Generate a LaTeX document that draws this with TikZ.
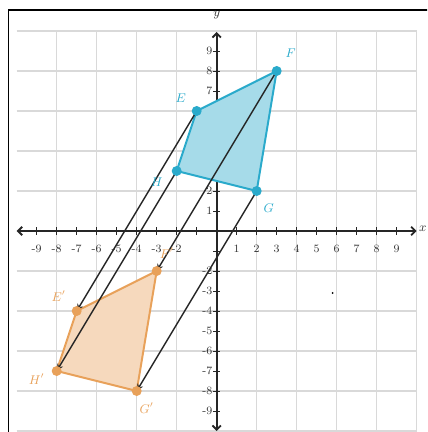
\documentclass[tikz,border=0pt]{standalone}
\usetikzlibrary{arrows.meta}
\definecolor{kblue}{HTML}{2AAACB}
\definecolor{korange}{HTML}{E8A15A}
\tikzset{
  gridline/.style={gray!30, line width=0.8pt},
  axisline/.style={black!85, line width=1.3pt, {Straight Barb[length=3pt,width=6pt]}-{Straight Barb[length=3pt,width=6pt]}},
  tick/.style={black!85, line width=0.7pt},
  ticklab/.style={font=\footnotesize, inner sep=0pt, text=black!80},
  translate/.style={black!85, line width=1pt, -{Stealth[length=5pt,width=4.5pt]}},
  bluepoly/.style={draw=kblue, line width=1.4pt, fill=kblue!42, line join=round},
  orangepoly/.style={draw=korange, line width=1.4pt, fill=korange!40, line join=round},
  bluedot/.style={fill=kblue},
  orangedot/.style={fill=korange},
  bluelab/.style={text=kblue, font=\small\itshape},
  orangelab/.style={text=korange, font=\small\itshape},
}
\begin{document}
\begin{tikzpicture}[x=0.5cm,y=0.5cm]
\useasboundingbox (-10.835,-10.05) rectangle (10.515,11.55);
\clip (-10.835,-10.05) rectangle (10.515,11.55);
% frame
\draw[line width=0.9pt] (-10.41,-11) -- (-10.41,11.05) -- (11,11.05);
% grid
\draw[gridline] (-10,-10.5) grid (10,10);
% axes
\draw[axisline] (-10,0) -- (10,0);
\draw[axisline] (0,-10) -- (0,9.95);
\node[font=\small\itshape, text=black!80, inner sep=0pt] (xl) at (10.3,0.1) {$x$};
\node[font=\small\itshape, text=black!80] (yl) at (0,10.8) {$y$};
\foreach \i in {-9,...,-1,1,2,...,9} {
  \draw[tick] (\i,-0.18) -- (\i,0.18);
  \draw[tick] (-0.18,\i) -- (0.18,\i);
}
\foreach \i in {-9,...,-2,1,2,...,9}
  \node[ticklab] at (\i,-0.9) {\i};
\foreach \i in {-9,...,-2,1,2,...,9}
  \node[ticklab, anchor=east] at (-0.2,\i) {\i};
% points
\coordinate (E) at (-1,6);
\coordinate (F) at (3,8);
\coordinate (G) at (2,2);
\coordinate (H) at (-2,3);
\coordinate (E2) at (-7,-4);
\coordinate (F2) at (-3,-2);
\coordinate (G2) at (-4,-8);
\coordinate (H2) at (-8,-7);
% polygons
\draw[bluepoly] (E) -- (F) -- (G) -- (H) -- cycle;
\draw[orangepoly] (E2) -- (F2) -- (G2) -- (H2) -- cycle;
% translation arrows
\draw[translate] (E) -- (E2);
\draw[translate] (F) -- (F2);
\draw[translate] (G) -- (G2);
\draw[translate] (H) -- (H2);
% dots
\foreach \p in {E,F,G,H} \fill[bluedot] (\p) circle (0.25);
\foreach \p in {E2,F2,G2,H2} \fill[orangedot] (\p) circle (0.25);
% labels
\node[bluelab] (lE) at (-1.8,6.65) {$E$};
\node[bluelab] (lF) at (3.7,8.9) {$F$};
\node[bluelab] (lG) at (2.6,1.15) {$G$};
\node[bluelab] (lH) at (-3.0,2.45) {$H$};
\node[orangelab] (lE2) at (-7.9,-3.25) {$E'$};
\node[orangelab] (lF2) at (-2.5,-1.1) {$F'$};
\node[orangelab] (lG2) at (-3.5,-8.85) {$G'$};
\node[orangelab] (lH2) at (-9.0,-7.4) {$H'$};
% stray dot
\fill (5.8,-3.1) circle (0.05);
\end{tikzpicture}
\end{document}
